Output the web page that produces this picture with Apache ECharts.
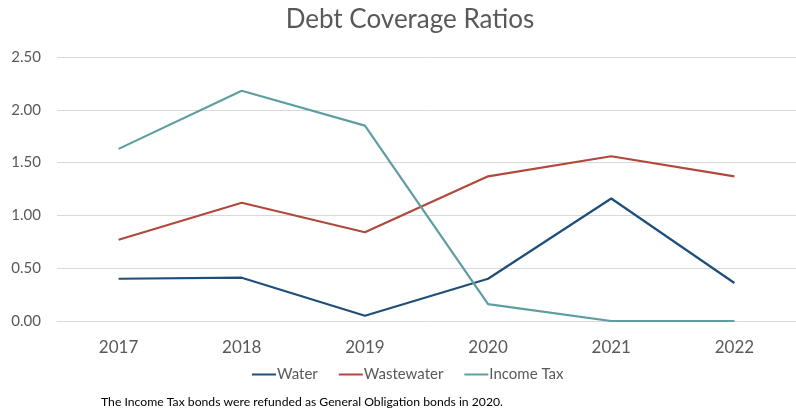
<!DOCTYPE html>
<html>
<head>
<meta charset="utf-8">
<script src="https://cdn.jsdelivr.net/npm/echarts@6/dist/echarts.min.js"></script>
<style>
  html, body { margin: 0; padding: 0; background: #fff; }
  #chart { width: 796px; height: 412px; }
</style>
</head>
<body>
<div id="chart"></div>
<script>
// data
var years = ['2017', '2018', '2019', '2020', '2021', '2022'];
var water = [0.40, 0.41, 0.05, 0.40, 1.16, 0.36];
var wastewater = [0.77, 1.12, 0.84, 1.37, 1.56, 1.37];
var incomeTax = [1.63, 2.18, 1.85, 0.16, 0.00, 0.00];
var yTicks = [0, 0.5, 1, 1.5, 2, 2.5];

var font = 'Lato, "Open Sans", sans-serif';

function makeLine(name, data, color) {
    return {
        name: name,
        type: 'line',
        data: data,
        showSymbol: false,
        symbol: 'none',
        lineStyle: { color: color, width: 2.2 },
        itemStyle: { color: color }
    };
}

var myChart = echarts.init(document.getElementById('chart'));
myChart.setOption({
    animation: false,
    title: {
        text: 'Debt Coverage Ratios',
        left: 405,
        textAlign: 'center',
        top: 2,
        textStyle: { fontFamily: font, fontSize: 26, fontWeight: 'normal', color: '#595959' }
    },
    legend: {
        top: 362,
        left: 247,
        itemWidth: 24,
        itemHeight: 2,
        itemGap: 21,
        icon: 'rect',
        textStyle: { fontFamily: font, fontSize: 15, color: '#595959', padding: [0, 0, 0, -4] },
        data: ['Water', 'Wastewater', 'Income Tax']
    },
    grid: { left: 57, top: 57, width: 750, height: 264 },
    xAxis: {
        type: 'category',
        data: years,
        boundaryGap: true,
        axisLine: { lineStyle: { color: '#d9d9d9' } },
        axisTick: { show: false },
        axisLabel: { fontFamily: font, fontSize: 17, color: '#595959', margin: 18 }
    },
    yAxis: {
        type: 'value',
        min: yTicks[0],
        max: yTicks[yTicks.length - 1],
        interval: 0.5,
        axisLine: { show: false },
        axisTick: { show: false },
        splitLine: { lineStyle: { color: '#d9d9d9' } },
        axisLabel: {
            fontFamily: font, fontSize: 15, color: '#595959', margin: 16,
            formatter: function (v) { return v.toFixed(2); }
        }
    },
    series: [
        makeLine('Water', water, '#1f4e79'),
        makeLine('Wastewater', wastewater, '#b0493b'),
        makeLine('Income Tax', incomeTax, '#5e9ea0')
    ],
    graphic: [{
        type: 'text',
        left: 101,
        top: 396,
        style: {
            text: 'The Income Tax bonds were refunded as General Obligation bonds in 2020.',
            fontFamily: font, fontSize: 12.2, fill: '#000'
        }
    }]
});
</script>
</body>
</html>
